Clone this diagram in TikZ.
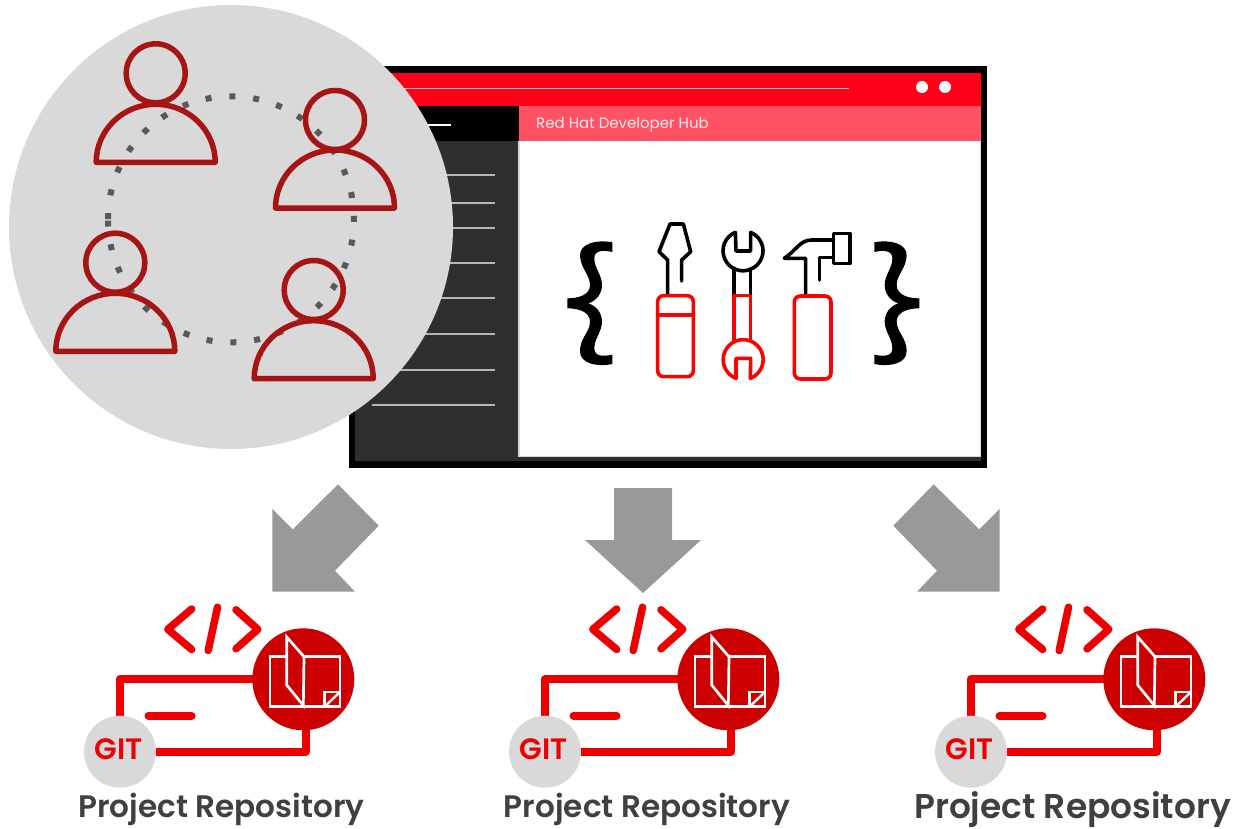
\documentclass[tikz,border=0pt]{standalone}
\usepackage{fontspec}
\setmainfont{Poppins}
\newfontfamily\semib[UprightFont=* SemiBold]{Poppins}
\definecolor{gr}{HTML}{D9D9D9}
\definecolor{pers}{HTML}{A61414}
\definecolor{rd}{HTML}{EE0000}
\definecolor{drd}{HTML}{CC0000}
\definecolor{barred}{HTML}{FF0019}
\definecolor{pink}{HTML}{FF5264}
\definecolor{side}{HTML}{2F2F2F}
\definecolor{arrowgr}{HTML}{999999}
\definecolor{txt}{HTML}{404040}
\tikzset{
 persline/.style={draw=pers,line width=5.5pt,fill=none},
 sideline/.style={draw=white!65!side,line width=1.5pt},
 bigarrow/.style={fill=arrowgr,draw=none},
 tool/.style={line width=3.6pt,line join=round,line cap=round,draw=black},
 toolred/.style={tool,draw=red!100!black},
 repoline/.style={draw=rd,line width=8pt,line join=round},
 codeline/.style={draw=rd,line width=7.5pt,line join=round,line cap=round},
 bookline/.style={draw=white,line width=2.7pt,line join=miter},
 repolabel/.style={text=txt,font=\semib\fontsize{31.1}{31.1}\selectfont,inner sep=0pt,anchor=base},
}
\newcommand{\person}[3]{%
 \draw[persline] (#1,#2) circle[radius=29.5];
 \draw[persline,line join=round] (#1-59.5,#3) arc[start angle=180,end angle=360,x radius=59.5,y radius=58] -- cycle;
}
\newcommand{\bracepath}{%
 (217,127) .. controls (170,118) and (118,130) .. (120,168) .. controls (122,205) and (150,225) .. (150,255) .. controls (150,285) and (115,295) .. (82,295) -- (82,325) .. controls (115,325) and (150,335) .. (150,365) .. controls (150,395) and (120,415) .. (120,452) .. controls (118,490) and (170,502) .. (217,492) -- (217,464) .. controls (190,470) and (163,470) .. (163,445) .. controls (163,415) and (186,395) .. (186,365) .. controls (186,340) and (170,318) .. (145,310) .. controls (170,302) and (186,280) .. (186,255) .. controls (186,225) and (163,205) .. (163,175) .. controls (163,150) and (190,150) .. (217,156) -- cycle
}
\newcommand{\repo}[2]{%
\begin{scope}[shift={(#1,0)}]
 \draw[repoline] (120,716) -- (120,679) -- (260,679);
 \draw[repoline] (150,751.5) -- (306,751.5) -- (306,720);
 \draw[repoline,line cap=round] (148.5,715.7) -- (191.5,715.7);
 \draw[codeline] (191.7,609) -- (167.8,629.3) -- (191.7,649.5);
 \draw[codeline] (217.5,607.2) -- (208.2,650.5);
 \draw[codeline] (236,609.8) -- (257.8,629.3) -- (236,648.8);
 \fill[drd] (303.3,679.3) circle[radius=51];
 \fill[gr] (120,751.7) circle[radius=36];
 \node[text=rd,font=\semib\fontsize{29.5}{29.5}\selectfont,inner sep=0pt,anchor=base] (git#2) at (118.7,759) {GIT};
 \draw[bookline] (286,656.7) -- (270,656.7) -- (270,706.7) -- (303.3,706.7);
 \draw[bookline] (304,656.7) -- (340,656.7) -- (340,706.7) -- (303.3,706.7);
 \draw[bookline] (303.3,705.5) -- (286.7,685) -- (286.7,637) -- (304,656.7) -- cycle;
 \draw[bookline,line width=2.4pt] (324.5,706.7) -- (324.5,692) -- (340,692);
 \draw[bookline,line width=2.4pt] (324.5,706.7) -- (340,692);
\end{scope}}
\begin{document}
\begin{tikzpicture}[x=1pt,y=-1pt]
\useasboundingbox (0,0) rectangle (1233,829);
% window
\fill[black] (349,66) rectangle (987,468);
\fill[barred] (349,73) rectangle (981,106);
\draw[white!70!barred,line width=1pt] (380,89) -- (849,89);
\fill[white] (922,87) circle[radius=6] (945,87) circle[radius=6];
\fill[side] (355,141) rectangle (981,461);
\fill[gr] (518,141) rectangle (981,456.5);
\fill[white] (519.5,141) rectangle (980,455.5);
\fill[pink] (519,106) rectangle (981,141);
\node[anchor=west,text=white!90!pink,font=\fontsize{15}{15}\selectfont,inner sep=0pt] (title) at (536,124.5) {Red Hat Developer Hub};
\draw[white,line width=1.5pt] (420,125) -- (451,125);
\foreach \y in {175,203,228,263,298,334,370,405} \draw[sideline] (372,\y) -- (495,\y);
% tools
\begin{scope}[shift={(540,200)},x=0.33333pt,y=-0.33333pt]
 \fill[black] \bracepath;
 \begin{scope}[shift={(1220,0)},xscale=-1]
  \fill[black] \bracepath;
 \end{scope}
 \draw[tool] (383,285) -- (383,180) -- (357,155) -- (390,72) -- (430,72) -- (452,155) -- (425,180) -- (425,243);
 \draw[toolred,rounded corners=6pt] (353,287) rectangle (460,530);
 \draw[toolred] (353,345) -- (460,345);
 \draw[tool] (632,97) arc[start angle=-67.5,end angle=247.5,radius=60] -- (588,153) -- (632,153) -- cycle;
 \draw[tool] (582,205) -- (582,285) (632,205) -- (632,285);
 \draw[toolred] (582,420) -- (582,287) -- (632,287) -- (632,420);
 \draw[toolred] (588,535) arc[start angle=111,end angle=429,radius=60] -- (632,475) -- (588,475) -- cycle;
 \draw[tool] (797,285) -- (797,175) -- (733,175) .. controls (770,150) and (780,120) .. (815,120) -- (880,120);
 \draw[tool] (880,100) rectangle (930,190);
 \draw[tool] (880,172) -- (838,172) -- (838,240);
 \draw[toolred,rounded corners=6pt] (763,288) rectangle (873,537);
\end{scope}
% team circle
\fill[gr] (231,227) circle[radius=222];
\draw[draw=black!65,line width=6pt,dash pattern=on 6pt off 17.92pt] (108,219.1) arc[start angle=180.1,end angle=539.4,radius=123];
\person{155.7}{73.3}{162.3}
\person{335}{120}{208}
\person{115.3}{262.7}{351.3}
\person{313.7}{290}{378.7}
% arrows
\fill[bigarrow] (338,484.3) -- (378.7,525.7) -- (335,570.7) -- (355,591.7) -- (272.3,591.7) -- (272.3,509) -- (292.7,529.3) -- cycle;
\fill[bigarrow] (614,488) -- (672,488) -- (672,540) -- (701,540) -- (643,593) -- (585,540) -- (614,540) -- cycle;
\fill[bigarrow] (933.7,484.3) -- (893.3,525.7) -- (937,570.7) -- (917,591.7) -- (999.7,591.7) -- (999.7,509) -- (979.3,529.3) -- cycle;
% repos
\repo{0}{a}
\repo{425}{b}
\repo{851}{c}
\node[repolabel] (la) at (221.5,817.7) {Project Repository};
\node[repolabel] (lb) at (647,817.7) {Project Repository};
\node[repolabel,font=\semib\fontsize{34.4}{34.4}\selectfont] (lc) at (1072.5,818.5) {Project Repository};
\end{tikzpicture}
\end{document}
